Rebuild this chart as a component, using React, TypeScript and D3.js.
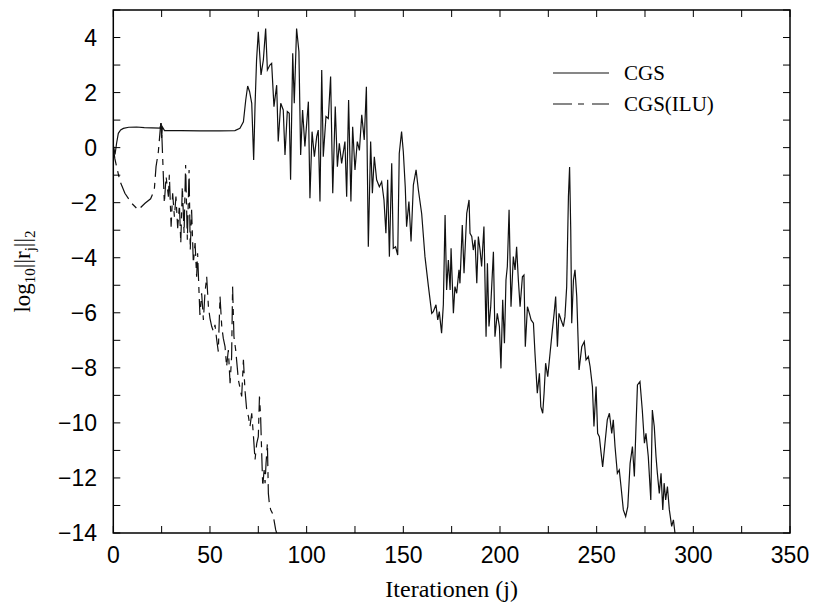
import React from "react";
import * as d3 from "d3";

// CGS residual history: iteration index and log10 of the residual norm
const cgsIter = [
  0, 0.9, 1.7, 2.6, 3.8, 5.2, 8, 12, 16, 20, 24.2, 24.6, 25.0, 25.4, 26.5, 35, 45, 55, 62.9, 65.5, 67.3, 68.5, 69.5, 70.5, 71.6, 72.6,
  73.3, 74.1, 75.0, 76.4, 77.6, 78.8, 79.7, 81.0, 81.9, 83.1, 84.5, 85.3, 86.6, 87.9, 88.8, 90.0, 91.0, 91.7, 92.8, 93.6, 94.8, 96.0,
  96.9, 97.9, 99.1, 100.9, 101.7, 102.8, 104.0, 105.2, 106.0, 106.9, 107.8, 108.6, 110.0, 111.2, 112.4, 113.5, 114.8, 115.9, 116.9,
  118.1, 119.8, 120.7, 121.7, 122.9, 123.8, 125.0, 126.2, 127.3, 128.5, 129.8, 130.9, 131.9, 133.1, 134.0, 135.0, 136.2, 137.6,
  138.8, 140.0, 141.0, 141.9, 142.8, 144.0, 144.8, 146.0, 147.1, 147.9, 149.1, 150.0, 151.0, 151.7, 152.9, 154.0, 155.2, 156.6,
  157.8, 159.5, 161.2, 163.0, 164.7,
  165.5, 166.9, 167.8, 168.6, 169.8, 170.7, 171.6, 172.4, 173.3, 174.2, 174.7, 175.9, 176.7, 177.6, 178.8, 179.3, 180.5, 181.4,
  182.8, 184.0, 184.5, 185.4, 186.2, 187.1, 188.0, 188.8, 189.7, 190.5, 191.7, 192.8, 193.5, 194.3, 195.2, 196.6, 197.4, 198.6,
  199.7, 200.5, 201.4, 202.3, 203.1, 203.8, 204.7, 205.7, 206.9, 207.8, 208.6, 209.5, 210.4, 211.6, 212.4, 213.1, 214.2, 215.2,
  216.1, 217.3, 218.1, 219.3, 220.4, 221.1, 222.1, 222.8, 223.6, 224.7, 225.9, 227.1, 228.0, 228.8, 229.7, 230.5, 231.6, 232.8,
  233.6, 234.5, 235.4, 236.0, 236.6, 237.1, 238.0, 238.8, 239.7, 240.9, 242.3, 243.6, 244.5, 245.7, 246.6, 247.8, 248.6, 249.7,
  250.5, 251.4, 252.3, 253.1, 254.3, 255.5, 256.6, 257.8, 258.6, 259.5, 260.7, 261.7, 262.6, 263.8, 265.0, 266.1, 267.3, 268.5,
  269.5, 270.4, 271.1, 272.4, 273.6, 274.7, 275.5, 276.7, 278.0, 278.8, 279.8, 280.7, 281.4, 282.4, 283.3, 284.2, 284.9, 285.7,
  286.6, 287.6, 288.8, 289.7, 290.5,
];
const cgsRes = [
  0.1, -0.25, 0.16, 0.52, 0.64, 0.7, 0.74, 0.75, 0.73, 0.72, 0.71, 0.85, 0.35, 0.75, 0.62, 0.62, 0.61, 0.61, 0.62, 0.7, 0.94, 1.73, 2.24, 2.03, 1.61, -0.45,
  1.5, 3.18, 4.21, 2.64, 3.18, 4.33, 2.82, 3.0, 3.06, 1.49, 2.27, 0.22, 1.61, 1.37, -0.27, 1.31, 1.25, -1.17, 3.43, 1.61, 4.33, 3.49,
  -0.27, 1.37, 0.04, 1.67, -1.84, 0.58, -0.33, 0.4, 0.64, -1.96, 2.82, -0.33, 1.13, 1.06, 2.58, -1.66, 1.49, -0.69, 0.16,
  -0.57, 0.22, -1.78, 1.73, -1.96, 0.76, -0.81, 0.22, -0.1, 1.19, 0.28, 2.21, -3.6, 0.22, -1.66, -0.33, -1.17, -1.42,
  -1.24, -1.9, -3.11, -1.17, -3.96, -0.57, -3.66, -3.6, -3.9, -0.21, 0.58, -0.15, -1.42, -2.87, -1.96, -3.41, -1.36, -0.81,
  -1.54, -2.4, -3.96, -5.05, -6.02,
  -5.96, -5.71, -6.26, -5.96, -6.74, -5.71, -2.45, -5.17, -4.08, -5.17, -3.66, -6.02, -5.05, -5.29, -4.44, -4.93, -2.81, -4.56,
  -2.39, -1.9, -3.11, -3.23, -3.72, -3.35, -4.93, -3.23, -3.72, -4.32, -2.87, -6.87, -4.2, -6.5, -5.78, -3.78, -6.87, -6.02,
  -6.5, -8.02, -5.53, -7.11, -4.81, -4.32, -2.26, -5.78, -3.96, -4.44, -3.6, -4.81, -5.78, -4.69, -4.63, -7.23, -5.78, -6.02,
  -6.26, -6.38, -7.47, -8.92, -8.2, -9.41, -9.65, -8.92, -7.83, -8.32, -7.47, -6.62, -6.02, -5.41, -7.23, -6.02, -6.26, -6.5,
  -6.14, -5.05, -1.78, -0.7, -3.0, -6.38, -4.81, -4.44, -5.41, -8.08, -7.23, -7.05, -7.71, -7.59, -7.95, -8.68, -10.13, -8.68,
  -10.38, -10.5, -11.1, -11.6, -10.74, -9.89, -9.65, -10.38, -9.89, -10.86, -11.83, -11.71, -12.31, -13.16, -13.4, -13.04, -11.47, -10.86,
  -11.95, -10.01, -8.62, -8.5, -9.53, -10.74, -10.38, -11.22, -12.8, -9.53, -10.13, -11.22, -11.83, -12.56, -11.83, -13.16, -12.19, -12.8,
  -12.31, -13.16, -13.76, -13.52, -14.0,
];

// CGS(ILU) residual history
const iluIter = [
  0, 0.8, 1.7, 3.5, 6.0, 9.5, 12.9, 16.4, 19.3, 21.2, 22.1, 23.3, 24.7, 25.2, 26.4, 27.3, 28.5, 29.0, 29.9, 30.7, 31.6, 32.4,
  33.3, 34.2, 34.9, 35.7, 36.6, 37.4, 38.3, 39.2, 39.8, 40.5, 41.4, 42.3, 43.1, 43.6, 44.3, 44.8, 45.7, 46.6, 47.4, 48.3, 49.2,
  50.0, 50.9, 51.8, 52.6, 53.5, 54.3, 55.2, 56.1, 56.9, 57.8, 58.6, 59.5, 60.4, 61.2, 61.7, 62.4, 63.3, 64.7, 66.4, 67.3, 68.1,
  69.0, 69.9, 70.7, 71.6, 72.4, 73.3, 74.2, 75.0, 75.6, 76.2, 76.7, 77.3, 78.0, 78.5, 79.0, 79.7, 80.2, 80.7, 81.4, 82.3, 83.1,
  84.0, 84.5,
];
const iluRes = [
  0.0, -0.4, -0.69, -1.23, -1.66, -2.02, -2.26, -2.02, -1.86, -1.54, -0.69, -0.15, 1.0, 0.28, -2.02, -1.05, -1.78, -0.99, -2.87, -1.66, -2.51, -1.78,
  -2.93, -2.08, -3.47, -1.42, -3.11, -0.63, -3.35, -0.81, -3.72, -2.26, -4.2, -3.47, -4.69, -3.84, -5.17, -6.08, -5.29, -6.26, -5.29, -4.69, -5.78,
  -6.2, -6.5, -6.68, -6.44, -6.99, -7.41, -5.41, -6.5, -6.93, -7.23, -7.96, -7.35, -8.56, -7.59, -5.05, -6.87, -7.35, -8.44, -9.04, -7.71, -8.8,
  -9.53, -9.77, -10.13, -9.65, -10.38, -11.34, -10.74, -10.5, -9.04, -9.77, -10.98, -12.31, -11.71, -12.19, -11.47, -10.74, -12.56, -12.92, -13.16, -13.28, -13.52,
  -13.89, -14.0,
];

const xMajor = [0, 50, 100, 150, 200, 250, 300, 350];
const xMinor = [25, 75, 125, 175, 225, 275, 325];
const yMajor = [-14, -12, -10, -8, -6, -4, -2, 0, 2, 4];
const yMinor = [-13, -11, -9, -7, -5, -3, -1, 1, 3, 5];
const legendLabels = ["CGS", "CGS(ILU)"];

const L = 113.3, R = 790, T = 10, B = 533;
const sans = "'Liberation Sans', Arial, Helvetica, sans-serif";
const serif = "'Liberation Serif', 'Times New Roman', serif";

export default function App() {
  const x = d3.scaleLinear().domain([0, 350]).range([L, R]);
  const y = d3.scaleLinear().domain([-14, 5]).range([B, T]);
  const line = d3
    .line<[number, number]>()
    .x((d) => x(d[0]))
    .y((d) => y(d[1]));
  const cgs = cgsIter.map((j, i) => [j, cgsRes[i]] as [number, number]);
  const ilu = iluIter.map((j, i) => [j, iluRes[i]] as [number, number]);
  const tk = 7;
  const fmt = (v: number) => (v < 0 ? "\u2212" + Math.abs(v) : String(v));

  return (
    <svg width={813} height={603} style={{ display: "block", position: "absolute", left: 0, top: 0, background: "#fff" }}>
      <rect x={0} y={0} width={813} height={603} fill="#fff" />
      <defs>
        <clipPath id="plot">
          <rect x={L} y={T} width={R - L} height={B - T} />
        </clipPath>
      </defs>
      <g clipPath="url(#plot)">
        <path d={line(cgs) || ""} fill="none" stroke="#111" strokeWidth={1.2} strokeLinejoin="miter" />
        <path d={line(ilu) || ""} fill="none" stroke="#111" strokeWidth={1.2} strokeDasharray="18,6,6,6" />
      </g>
      {/* ticks */}
      {[...xMajor, ...xMinor].map((v) => (
        <g key={"xt" + v} stroke="#000" strokeWidth={1}>
          <line x1={x(v)} x2={x(v)} y1={B} y2={B - tk} />
          <line x1={x(v)} x2={x(v)} y1={T} y2={T + tk} />
        </g>
      ))}
      {[...yMajor, ...yMinor].map((v) => (
        <g key={"yt" + v} stroke="#000" strokeWidth={1}>
          <line x1={L} x2={L + tk} y1={y(v)} y2={y(v)} />
          <line x1={R} x2={R - tk} y1={y(v)} y2={y(v)} />
        </g>
      ))}
      <rect x={L} y={T} width={R - L} height={B - T} fill="none" stroke="#000" strokeWidth={1.5} />
      {/* tick labels */}
      {xMajor.map((v) => (
        <text key={"xl" + v} x={x(v)} y={563} textAnchor="middle" fontFamily={sans} fontSize={23} fill="#000">
          {v}
        </text>
      ))}
      {yMajor.map((v) => (
        <text key={"yl" + v} x={97} y={y(v) + 8} textAnchor="end" fontFamily={sans} fontSize={23} fill="#000">
          {fmt(v)}
        </text>
      ))}
      {/* axis titles */}
      <text x={(L + R) / 2} y={597} textAnchor="middle" fontFamily={serif} fontSize={24} fill="#000">
        Iterationen (j)
      </text>
      <text transform={`translate(30,${(T + B) / 2}) rotate(-90)`} textAnchor="middle" fontFamily={serif} fontSize={23} fill="#000">
        log<tspan fontSize={15} dy={5}>10</tspan>
        <tspan dy={-5}>||r</tspan>
        <tspan fontSize={15} dy={5}>j</tspan>
        <tspan dy={-5}>||</tspan>
        <tspan fontSize={15} dy={5}>2</tspan>
      </text>
      {/* legend */}
      <line x1={553} x2={609} y1={73} y2={73} stroke="#111" strokeWidth={1.2} />
      <text x={624} y={80} fontFamily={serif} fontSize={21} fill="#000">
        {legendLabels[0]}
      </text>
      <line x1={553} x2={609} y1={104} y2={104} stroke="#111" strokeWidth={1.2} strokeDasharray="19,6,6,8" />
      <text x={624} y={111} fontFamily={serif} fontSize={21} fill="#000">
        {legendLabels[1]}
      </text>
    </svg>
  );
}
